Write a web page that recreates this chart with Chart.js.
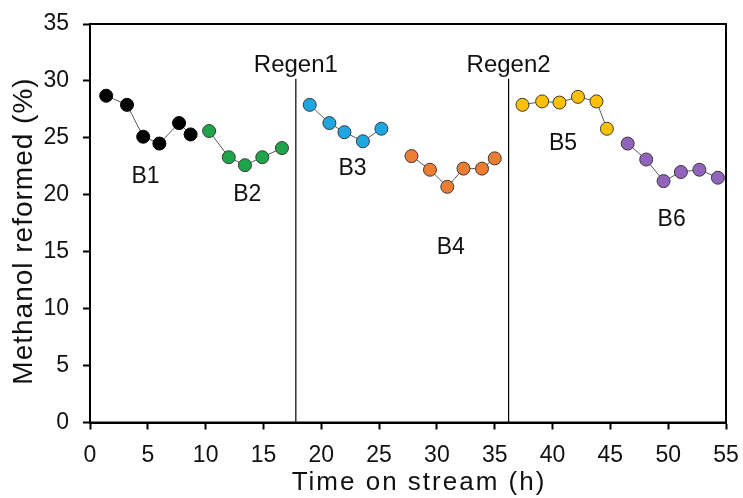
<!DOCTYPE html>
<html>
<head>
<meta charset="utf-8">
<script src="https://cdn.jsdelivr.net/npm/chart.js@4/dist/chart.umd.min.js"></script>
<style>
  html, body { margin: 0; padding: 0; background: #fff; }
  #wrap { width: 743px; height: 498px; }
</style>
</head>
<body>
<div id="wrap"><canvas id="chart"></canvas></div>
<script>
// Time on stream (h) and methanol reformed (%) per batch
const b1Time = [1.4, 3.2, 4.6, 6.0, 7.7, 8.7];
const b1Val  = [28.7, 27.9, 25.1, 24.5, 26.3, 25.3];
const b2Time = [10.3, 12.0, 13.4, 14.9, 16.6];
const b2Val  = [25.6, 23.3, 22.6, 23.3, 24.1];
const b3Time = [19.0, 20.7, 22.0, 23.6, 25.2];
const b3Val  = [27.9, 26.3, 25.5, 24.7, 25.8];
const b4Time = [27.8, 29.4, 30.9, 32.3, 33.9, 35.0];
const b4Val  = [23.4, 22.2, 20.7, 22.3, 22.3, 23.2];
const b5Time = [37.4, 39.1, 40.6, 42.2, 43.8, 44.7];
const b5Val  = [27.9, 28.2, 28.1, 28.6, 28.2, 25.8];
const b6Time = [46.5, 48.1, 49.6, 51.1, 52.7, 54.3];
const b6Val  = [24.5, 23.1, 21.2, 22.0, 22.2, 21.5];

const batchNames = ['B1', 'B2', 'B3', 'B4', 'B5', 'B6'];
// where each batch label sits (data units)
const batchLabelX = [4.8, 13.6, 22.7, 31.2, 40.9, 50.3];
const batchLabelY = [21.6, 20.0, 22.3, 15.4, 24.5, 17.8];

// regeneration events
const regenTime = [17.8, 36.2];
const regenTop = 30.2;
const regenNames = ['Regen1', 'Regen2'];
const regenLabelY = 31.4;

const xTitle = 'Time on stream (h)';
const yTitle = 'Methanol reformed (%)';

const xTicks = { min: 0, max: 55, step: 5 };
const yTicks = { min: 0, max: 35, step: 5 };

const colors = ['#000000', '#1fa44c', '#1ea6e0', '#ed7d31', '#ffc000', '#9163bb'];

const FONT = "'Liberation Sans', Arial, sans-serif";

function pairs(xs, ys) {
    return xs.map((x, i) => ({ x: x, y: ys[i] }));
}

const series = [
    pairs(b1Time, b1Val), pairs(b2Time, b2Val), pairs(b3Time, b3Val),
    pairs(b4Time, b4Val), pairs(b5Time, b5Val), pairs(b6Time, b6Val)
];

const datasets = [];

regenTime.forEach(t => {
    datasets.push({
        data: [{ x: t, y: 0 }, { x: t, y: regenTop }],
        showLine: true,
        borderColor: '#000',
        borderWidth: 1.2,
        pointRadius: 0
    });
});

series.forEach((pts, i) => {
    datasets.push({
        label: batchNames[i],
        data: pts,
        showLine: true,
        borderColor: '#595959',
        borderWidth: 1,
        pointRadius: 6.5,
        pointBackgroundColor: colors[i],
        pointBorderColor: i === 0 ? '#000' : '#3a3a3a',
        pointBorderWidth: 1
    });
});

// frame, axis titles and text annotations
const extras = {
    id: 'extras',
    afterDatasetsDraw(chart) {
        const { ctx, chartArea, scales } = chart;
        ctx.save();
        ctx.strokeStyle = '#000';
        ctx.lineWidth = 2;
        ctx.strokeRect(chartArea.left, chartArea.top,
            chartArea.right - chartArea.left, chartArea.bottom - chartArea.top);

        ctx.fillStyle = '#111';
        ctx.textAlign = 'center';
        ctx.textBaseline = 'middle';
        ctx.font = '23px ' + FONT;
        batchNames.forEach((name, i) => {
            ctx.fillText(name, scales.x.getPixelForValue(batchLabelX[i]),
                scales.y.getPixelForValue(batchLabelY[i]));
        });
        ctx.font = '24px ' + FONT;
        regenNames.forEach((name, i) => {
            ctx.fillText(name, scales.x.getPixelForValue(regenTime[i]),
                scales.y.getPixelForValue(regenLabelY));
        });

        // axis titles (the original has slightly spaced lettering)
        ctx.textBaseline = 'alphabetic';
        ctx.font = '26px ' + FONT;
        ctx.letterSpacing = '2px';
        ctx.fillText(xTitle, 419, 490);

        ctx.font = '28px ' + FONT;
        ctx.letterSpacing = '1px';
        ctx.translate(32, 231);
        ctx.rotate(-Math.PI / 2);
        ctx.fillText(yTitle, 0, 0);
        ctx.restore();
    }
};

new Chart(document.getElementById('chart'), {
    type: 'scatter',
    data: { datasets: datasets },
    options: {
        responsive: true,
        maintainAspectRatio: false,
        animation: false,
        layout: { padding: { top: 24, right: 17, left: 0, bottom: 0 } },
        plugins: {
            legend: { display: false },
            tooltip: { enabled: false }
        },
        scales: {
            x: {
                type: 'linear',
                min: xTicks.min,
                max: xTicks.max,
                afterFit(scale) {
                    scale.height = 75.5;
                    scale.paddingLeft = 0;
                    scale.paddingRight = 0;
                },
                ticks: {
                    stepSize: xTicks.step,
                    color: '#111',
                    padding: 12,
                    font: { family: FONT, size: 23 }
                },
                grid: {
                    drawOnChartArea: false,
                    drawTicks: true,
                    tickLength: 7,
                    tickColor: '#000',
                    tickWidth: 2
                },
                border: { color: '#000', width: 2 }
            },
            y: {
                type: 'linear',
                min: yTicks.min,
                max: yTicks.max,
                afterFit(scale) {
                    scale.width = 90;
                    scale.paddingTop = 0;
                    scale.paddingBottom = 0;
                },
                ticks: {
                    stepSize: yTicks.step,
                    color: '#111',
                    padding: 14,
                    font: { family: FONT, size: 23 }
                },
                grid: {
                    drawOnChartArea: false,
                    drawTicks: true,
                    tickLength: 7,
                    tickColor: '#000',
                    tickWidth: 2
                },
                border: { color: '#000', width: 2 }
            }
        }
    },
    plugins: [extras]
});
</script>
</body>
</html>
